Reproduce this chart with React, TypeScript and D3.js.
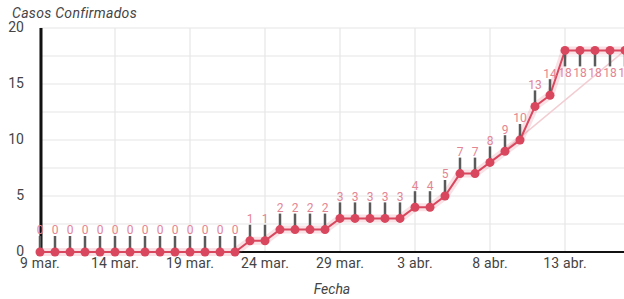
import React, { useEffect, useRef } from "react";
import * as d3 from "d3";

const dates = d3.timeDay.range(new Date(2020, 2, 9), new Date(2020, 3, 18));
const casos = [
  0, 0, 0, 0, 0, 0, 0, 0, 0, 0, 0, 0, 0, 0,
  1, 1,
  2, 2, 2, 2,
  3, 3, 3, 3, 3,
  4, 4,
  5,
  7, 7,
  8, 9, 10, 13, 14,
  18, 18, 18, 18, 18,
];
const trendDates = [new Date(2020, 3, 8), new Date(2020, 3, 17)];
const trendValues = [8, 18];
const tickDates = [
  new Date(2020, 2, 9), new Date(2020, 2, 14), new Date(2020, 2, 19), new Date(2020, 2, 24),
  new Date(2020, 2, 29), new Date(2020, 3, 3), new Date(2020, 3, 8), new Date(2020, 3, 13),
];
const tickLabels = ["9 mar.", "14 mar.", "19 mar.", "24 mar.", "29 mar.", "3 abr.", "8 abr.", "13 abr."];
const yTicks = [0, 5, 10, 15, 20];

const W = 624;
const H = 299;
const FONT = "Roboto, 'Noto Sans', sans-serif";

export default function App() {
  const ref = useRef<SVGSVGElement>(null);

  useEffect(() => {
    document.body.style.margin = "0";
    if (!ref.current) return;
    const svg = d3.select(ref.current);
    svg.selectAll("*").remove();

    const x = d3.scaleTime().domain([dates[0], dates[dates.length - 1]]).range([40, 625]);
    const y = d3.scaleLinear().domain([0, 20]).range([252, 28]);

    // grid
    const g = svg.append("g");
    g.selectAll(".hg")
      .data(d3.range(0, 20.01, 2.5))
      .enter()
      .append("line")
      .attr("x1", 40).attr("x2", W)
      .attr("y1", d => y(d)).attr("y2", d => y(d))
      .attr("stroke", "#e6e6e6").attr("stroke-width", 1.2);
    g.selectAll(".vg")
      .data(tickDates)
      .enter()
      .append("line")
      .attr("x1", d => x(d)).attr("x2", d => x(d))
      .attr("y1", y(20)).attr("y2", y(0))
      .attr("stroke", "#e6e6e6").attr("stroke-width", 1.2);

    // axes
    svg.append("line")
      .attr("x1", 40).attr("x2", W).attr("y1", y(0)).attr("y2", y(0))
      .attr("stroke", "#111").attr("stroke-width", 2);
    svg.append("line")
      .attr("x1", 41).attr("x2", 41).attr("y1", y(20)).attr("y2", y(0))
      .attr("stroke", "#111").attr("stroke-width", 3);

    svg.selectAll(".yl")
      .data(yTicks)
      .enter()
      .append("text")
      .attr("x", 24).attr("y", d => y(d) - 1).attr("dy", "0.36em")
      .attr("text-anchor", "end")
      .attr("font-family", FONT).attr("font-size", 14).attr("fill", "#444")
      .text(d => d);

    svg.selectAll(".xl")
      .data(tickDates)
      .enter()
      .append("text")
      .attr("x", d => x(d)).attr("y", 268)
      .attr("text-anchor", "middle")
      .attr("font-family", FONT).attr("font-size", 14).attr("letter-spacing", 0.2).attr("fill", "#444")
      .text((d, i) => tickLabels[i]);

    svg.append("text")
      .attr("x", 12).attr("y", 18)
      .attr("font-family", FONT).attr("font-size", 14).attr("font-style", "italic").attr("letter-spacing", 0.3).attr("fill", "#444")
      .text("Casos Confirmados");
    svg.append("text")
      .attr("x", 332).attr("y", 294).attr("text-anchor", "middle")
      .attr("font-family", FONT).attr("font-size", 14).attr("font-style", "italic").attr("fill", "#444")
      .text("Fecha");

    // trend line
    svg.append("path")
      .datum(trendDates.map((d, i) => [x(d), y(trendValues[i])] as [number, number]))
      .attr("d", d3.line())
      .attr("fill", "none").attr("stroke", "#f2cdd2").attr("stroke-width", 1.5);

    const pts = dates.map((d, i) => [x(d), y(casos[i])] as [number, number]);
    const line = d3.line();
    svg.append("path").attr("d", line(pts))
      .attr("fill", "none").attr("stroke", "#e3697c").attr("stroke-opacity", 0.2).attr("stroke-width", 8);
    svg.append("path").attr("d", line(pts))
      .attr("fill", "none").attr("stroke", "#d9475e").attr("stroke-width", 2);

    const maxV = d3.max(casos) || 0;
    const ann = svg.append("g");
    dates.forEach((d, i) => {
      const v = casos[i];
      const px = x(d);
      const py = y(v);
      const dir = v === maxV ? 1 : -1;
      ann.append("line")
        .attr("x1", px).attr("x2", px)
        .attr("y1", py).attr("y2", py + dir * 16)
        .attr("stroke", "#5a5a5a").attr("stroke-width", 2.5);
      ann.append("text")
        .attr("x", px).attr("y", py + dir * 22).attr("dy", "0.36em")
        .attr("text-anchor", "middle")
        .attr("font-family", FONT).attr("font-size", 12).attr("fill", "#e38593")
        .text(v);
    });

    svg.selectAll(".pt")
      .data(pts)
      .enter()
      .append("circle")
      .attr("cx", d => d[0]).attr("cy", d => d[1]).attr("r", 4.5)
      .attr("fill", "#d9475e");
  }, []);

  return <svg ref={ref} width={W} height={H} style={{ display: "block", background: "#fff" }} />;
}
